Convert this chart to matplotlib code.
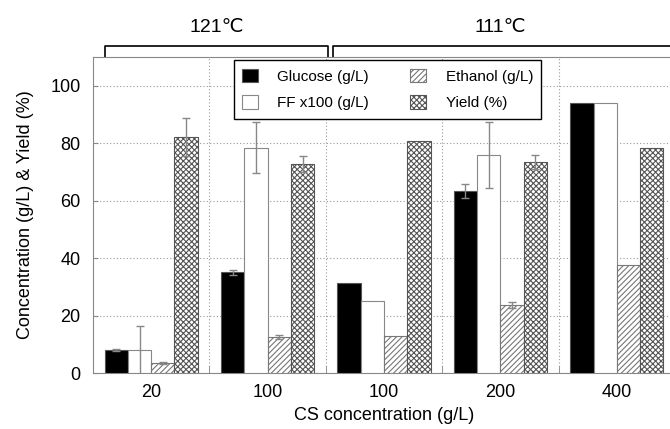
import numpy as np
import matplotlib.pyplot as plt

plt.rcParams['font.family'] = ['Liberation Sans', 'DejaVu Sans']
plt.rcParams['hatch.linewidth'] = 0.8

# data
groups = ['20', '100', '100', '200', '400']
glucose = [8.0, 35.0, 31.5, 63.3, 94.1]
glucose_err = [0.3, 1.0, 0, 2.5, 0]
ff = [8.0, 78.5, 25.0, 76.0, 94.1]
ff_err = [8.3, 9.0, 0, 11.5, 0]
ethanol = [3.5, 12.6, 13.0, 23.7, 37.7]
ethanol_err = [0.4, 0.7, 0, 0.9, 0]
yields = [82.3, 72.8, 80.6, 73.4, 78.3]
yields_err = [6.6, 2.8, 0, 2.4, 0]
temps = ['121℃', '111℃']

series = [
    ('Glucose (g/L)', glucose, glucose_err, dict(color='black', edgecolor='#555555')),
    ('FF x100 (g/L)', ff, ff_err, dict(color='white', edgecolor='#888888')),
    ('Ethanol (g/L)', ethanol, ethanol_err, dict(color='white', edgecolor='#777777', hatch='//////')),
    ('Yield (%)', yields, yields_err, dict(color='white', edgecolor='#555555', hatch='xxxxxx')),
]

fig = plt.figure(figsize=(6.7, 4.29), dpi=100)
# axes run past the right edge, like the cropped original
ax = fig.add_axes([0.1388, 0.1305, 0.8687, 0.7366])

x = np.arange(len(groups))
width = 0.2
for i, (label, vals, errs, style) in enumerate(series):
    pos = x + (i - 1.5) * width
    ax.bar(pos, vals, width, label=label, linewidth=0.8, zorder=3, **style)
    for p, v, e in zip(pos, vals, errs):
        if e > 0:
            ax.errorbar(p, v, yerr=e, color='#888888', elinewidth=1,
                        capsize=3, capthick=1, zorder=4)

ax.set_xlim(-0.5, 4.5)
ax.set_ylim(0, 110)
ax.set_yticks(range(0, 101, 20))
ax.set_xticks(x)
ax.set_xticklabels(groups)
ax.set_xticks(x[:-1] + 0.5, minor=True)
ax.tick_params(axis='both', which='major', labelsize=13, direction='in', color='#888888')
ax.tick_params(axis='y', which='major', pad=9)
ax.tick_params(axis='x', which='major', length=0, pad=8)
ax.tick_params(axis='x', which='minor', length=5, direction='in', color='#888888')
ax.grid(axis='y', which='major', linestyle=(0, (1, 2)), color='#999999', linewidth=0.8)
ax.grid(axis='x', which='minor', linestyle=(0, (1, 2)), color='#999999', linewidth=0.8)
ax.set_axisbelow(True)
for side in ['left', 'bottom', 'top']:
    ax.spines[side].set_color('#888888')
ax.spines['right'].set_visible(False)

ax.set_xlabel('CS concentration (g/L)', fontsize=13, labelpad=4)
ax.set_ylabel('Concentration (g/L) & Yield (%)', fontsize=13, labelpad=12)

leg = ax.legend(ncol=2, loc='upper left', bbox_to_anchor=(0.242, 0.99),
                borderaxespad=0, fontsize=11, frameon=True, fancybox=False,
                edgecolor='black', framealpha=1,
                handlelength=1.0, handleheight=1.0, columnspacing=2.7,
                borderpad=0.55, labelspacing=0.75, handletextpad=1.3)
leg.get_frame().set_linewidth(1.0)
leg.set_zorder(10)

# temperature brackets above the plot
bracket_x = [(-0.4, 1.52), (1.56, 4.6)]
label_x = [0.56, 3.0]
for (x0, x1), lx, name in zip(bracket_x, label_x, temps):
    ax.plot([x0, x0, x1, x1], [1.0, 1.035, 1.035, 1.0], color='black', lw=1.2,
            transform=ax.get_xaxis_transform(), clip_on=False)
    ax.text(lx, 1.065, name, transform=ax.get_xaxis_transform(),
            ha='center', va='bottom', fontsize=14)

fig.savefig('out.png', dpi=100)
